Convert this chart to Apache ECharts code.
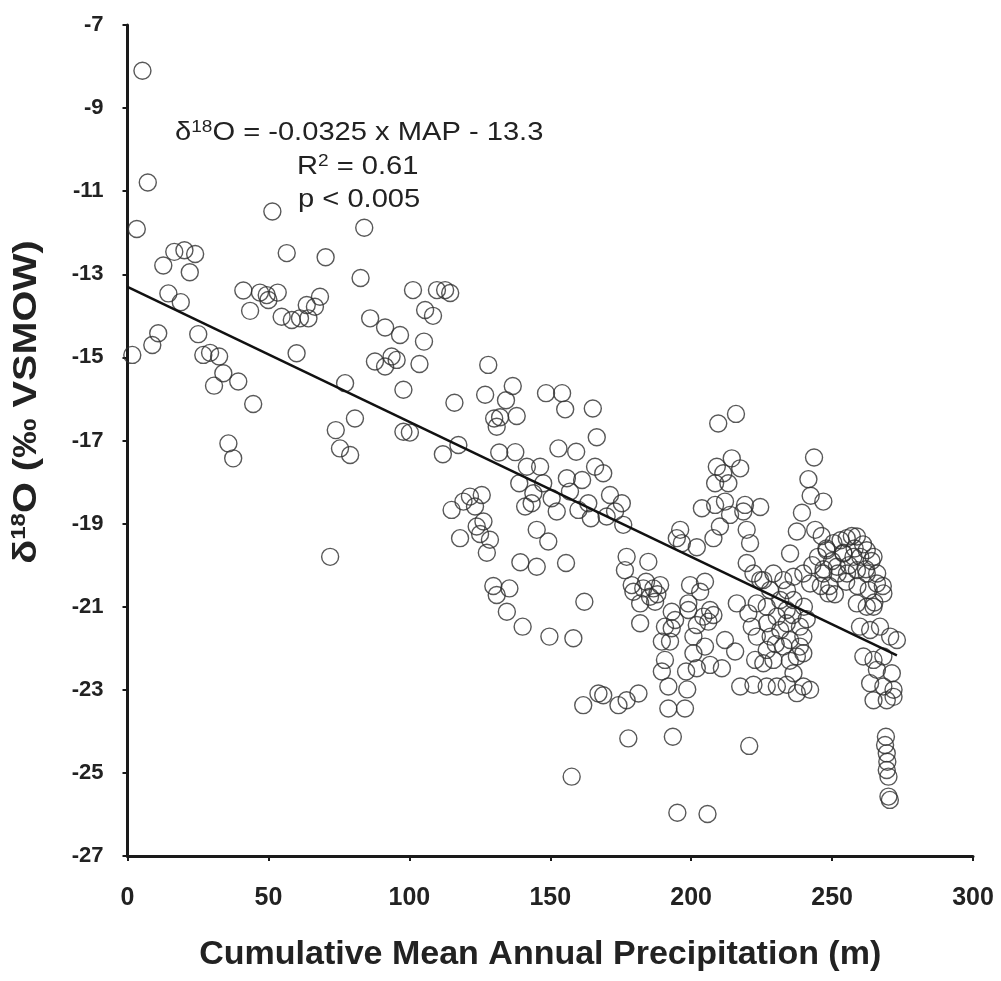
<!DOCTYPE html>
<html>
<head>
<meta charset="utf-8">
<script src="https://cdn.jsdelivr.net/npm/echarts@6/dist/echarts.min.js"></script>
<style>html,body{margin:0;padding:0;background:#fff;}#chart{width:1001px;height:981px;}</style>
</head>
<body>
<div id="chart"></div>
<script>
// Cumulative MAP (m), δ18O (‰ VSMOW) pairs
const pointsEarly = [
[5.3,-8.10],[7.2,-10.79],[3.3,-11.91],[51.4,-11.49],[84.0,-11.88],[56.5,-12.49],[70.3,-12.59],[82.7,-13.09],
[16.6,-12.46],[20.2,-12.42],[24.0,-12.51],[12.7,-12.79],[22.1,-12.95],[14.5,-13.46],[18.9,-13.67],
[41.1,-13.39],[47.0,-13.44],[49.4,-13.50],[53.3,-13.44],[43.5,-13.88],[50.0,-13.62],[54.7,-14.02],
[58.3,-14.10],[61.2,-14.06],[64.2,-14.06],[63.6,-13.74],[68.3,-13.54],[66.5,-13.78],[86.1,-14.06],[91.4,-14.28],
[10.9,-14.42],[8.8,-14.70],[1.7,-14.94],[25.1,-14.44],[26.9,-14.94],[29.3,-14.89],[32.5,-14.98],[34.0,-15.38],
[30.7,-15.68],[39.3,-15.58],[44.6,-16.12],[35.8,-17.07],[37.5,-17.43],[60.0,-14.90],[77.2,-15.62],[80.7,-16.47],
[73.9,-16.75],[75.4,-17.19],[79.0,-17.35],[71.9,-19.80],[87.8,-15.10],[91.4,-15.22],[93.7,-14.98],[95.5,-15.06],
[97.9,-15.78],[97.9,-16.79],[96.7,-14.46]
];
const pointsMid = [
[101.3,-13.38],[105.6,-13.86],[108.4,-14.00],[109.8,-13.38],[112.7,-13.38],[114.5,-13.45],[105.2,-14.62],[103.6,-15.16],[100.2,-16.81],
[128.0,-15.18],[116.0,-16.09],[126.9,-15.90],[136.7,-15.69],[134.3,-16.03],[130.1,-16.47],[132.2,-16.44],[138.1,-16.41],[131.0,-16.67],
[148.5,-15.86],[154.2,-15.86],[155.3,-16.25],[165.1,-16.23],[166.5,-16.92],[117.4,-17.11],[111.9,-17.33],[131.9,-17.29],[137.6,-17.28],
[152.9,-17.19],[159.2,-17.27],[141.7,-17.63],[146.4,-17.63],[155.9,-17.91],[161.3,-17.95],[165.9,-17.63],[139.0,-18.03],[147.5,-18.03],
[144.0,-18.27],[150.5,-18.39],[157.0,-18.23],[141.1,-18.59],[143.4,-18.51],[152.3,-18.71],[160.0,-18.67],[163.5,-18.51],[164.4,-18.87],
[115.0,-18.67],[121.5,-18.35],[125.7,-18.31],[119.2,-18.47],[123.3,-18.59],[126.3,-18.95],[123.9,-19.07],[118.0,-19.35],[128.6,-19.39],[125.1,-19.25],
[127.5,-19.70],[145.2,-19.15],[149.3,-19.43],[139.4,-19.93],[155.6,-19.95],[145.2,-20.04],
[129.8,-20.50],[135.5,-20.56],[131.0,-20.72],[134.6,-21.12],[140.2,-21.48],[149.7,-21.72],[158.2,-21.76],[162.1,-20.88],
[161.7,-23.37],[167.1,-23.09],[157.6,-25.09]
];
const pointsLate = [
[168.8,-17.79],[171.2,-18.31],[175.4,-18.51],[173.0,-18.71],[170.0,-18.83],[175.9,-19.03],[177.1,-19.80],[184.8,-19.92],
[196.1,-19.15],[194.9,-19.35],[196.7,-19.47],[202.0,-19.57],
[209.6,-16.59],[215.9,-16.36],[209.1,-17.63],[214.4,-17.43],[217.4,-17.67],[211.4,-17.79],[208.5,-18.03],[213.2,-18.03],
[203.8,-18.63],[208.5,-18.55],[212.0,-18.47],[219.1,-18.55],[218.5,-18.71],[213.8,-18.79],[219.7,-19.15],[210.2,-19.07],[207.9,-19.35],[220.9,-19.47],
[176.5,-20.12],[179.5,-20.64],[183.0,-20.56],[186.6,-20.56],[189.0,-20.48],[178.9,-20.48],[185.4,-20.76],[181.9,-20.92],[187.2,-20.88],[181.9,-21.40],
[184.0,-20.40],[188.0,-20.70],
[199.6,-20.48],[204.9,-20.40],[203.2,-20.64],[199.0,-20.92],[199.0,-21.08],
[193.1,-21.12],[194.3,-21.32],[190.7,-21.48],[193.1,-21.52],
[206.7,-21.08],[204.3,-21.24],[202.0,-21.44],[206.1,-21.36],[207.9,-21.20],
[189.6,-21.84],[192.5,-21.84],[200.8,-21.72],[204.9,-21.96],[200.8,-22.12],[190.7,-22.28],[189.6,-22.56],
[198.2,-22.56],[202.0,-22.48],[206.7,-22.40],[210.9,-22.48],[212.0,-21.80],[215.6,-22.08],[216.2,-20.92],
[217.4,-22.92],[222.1,-22.88],[222.7,-22.28],[220.3,-21.16],[223.3,-20.92],[221.5,-21.48],[223.3,-21.72],
[191.9,-22.92],[198.6,-22.99],[191.9,-23.45],[197.8,-23.45],
[168.8,-23.13],[174.2,-23.37],[177.1,-23.25],[181.3,-23.09],
[177.7,-24.17],[193.5,-24.13],[220.6,-24.35],[195.1,-25.96],[205.8,-25.99],
[222.1,-20.20],[224.5,-20.36],[219.7,-19.95]
];
const pointsEnd = [
[243.6,-17.41],[241.6,-17.93],[242.4,-18.33],[246.9,-18.47],[239.3,-18.74],[237.5,-19.19],[244.0,-19.15],[246.3,-19.30],[235.1,-19.72],[224.5,-18.60],
[225.6,-20.36],[229.2,-20.20],[232.7,-20.36],[236.3,-20.28],[239.8,-20.20],[242.2,-20.44],
[226.8,-22.92],[230.4,-22.92],[233.9,-22.88],[236.3,-22.60],[239.8,-22.92],[242.2,-23.00],[237.5,-23.08],
[238.6,-21.48],[239.8,-21.72],[238.6,-21.96],[239.8,-22.12],[229.2,-22.28],[225.6,-22.36],
[226.8,-21.00],[230.4,-21.24],[233.9,-21.08],[231.6,-21.56],[228.2,-21.72],[235.1,-21.80],[232.7,-21.96],[236.3,-20.84],[231.6,-20.84],[226.8,-22.04],[233.9,-21.40],[237.5,-22.20],
[228.0,-20.60],[234.0,-20.60],[240.0,-21.00],[227.0,-21.40],[235.0,-22.30],[230.0,-21.90],[241.0,-21.30],[236.0,-21.20],
[259.9,-21.48],[263.5,-21.56],[267.0,-21.48],[270.6,-21.72],[273.0,-21.80],
[261.1,-22.20],[264.7,-22.28],[268.2,-22.20],[265.9,-22.52],[271.2,-22.60],[263.5,-22.84],[268.2,-22.92],[271.8,-23.00],[264.7,-23.25],[269.4,-23.25],[271.8,-23.17],
[269.1,-24.13],[268.8,-24.33],[269.4,-24.53],[269.6,-24.73],[269.4,-24.93],[270.0,-25.09],[270.0,-25.57],[270.5,-25.65],
[258.8,-20.12],[262.3,-20.20],[265.9,-20.44],[268.2,-20.68],[258.8,-20.92],[262.3,-21.00],[264.7,-21.00],
[248.7,-20.68],[251.7,-20.04],[246.9,-20.20],[255.3,-20.20],
[250.5,-19.47],[255.2,-19.35],[258.8,-19.31],[262.3,-19.64],[264.7,-19.80],[248.1,-19.64],[254.0,-19.72],[257.6,-19.80],
[248,-19.6],[250,-19.9],[252,-20.2],[249,-20.5],[254,-19.7],[256,-20.0],[258,-19.6],[255,-20.4],[260,-19.8],[262,-20.1],
[259,-20.5],[264,-19.9],[263,-20.6],[266,-20.2],[253,-19.4],[257,-19.3],[261,-19.5],[247,-20.1],[245,-19.8],[251,-20.7],
[265,-20.9],[268,-20.5],[246,-20.5],[243,-20.0]
];
// regression line δ18O = -0.0325 x MAP - 13.3, drawn over the data range
const trendLine = [[0,-13.3],[273,-22.17]];
const xTicks = [0,50,100,150,200,250,300];
const yTicks = [-27,-25,-23,-21,-19,-17,-15,-13,-11,-9,-7];

const allPoints = pointsEarly.concat(pointsMid, pointsLate, pointsEnd);
const chart = echarts.init(document.getElementById('chart'), null, {renderer:'canvas'});
const FONT = '"Liberation Sans", Arial, sans-serif';
const axisCol = '#1a1a1a';
const txtCol = '#222';
chart.setOption({
  animation:false,
  backgroundColor:'#fff',
  grid:{left:127.5,right:28,top:25,bottom:125,containLabel:false},
  xAxis:{
    type:'value', min:xTicks[0], max:xTicks[xTicks.length-1], interval:50,
    splitLine:{show:false},
    axisLine:{show:true,onZero:false,lineStyle:{color:axisCol,width:3}},
    axisTick:{show:true,length:5,lineStyle:{color:axisCol,width:2}},
    axisLabel:{color:txtCol,fontFamily:FONT,fontWeight:'bold',fontSize:25,margin:30},
    name:'Cumulative Mean Annual Precipitation (m)',
    nameLocation:'middle', nameGap:82,
    nameTextStyle:{color:txtCol,fontFamily:FONT,fontWeight:'bold',fontSize:34,padding:[0,20,0,0]}
  },
  yAxis:{
    type:'value', min:yTicks[0], max:yTicks[yTicks.length-1], interval:2,
    splitLine:{show:false},
    axisLine:{show:true,onZero:false,lineStyle:{color:axisCol,width:3}},
    axisTick:{show:true,length:5,lineStyle:{color:axisCol,width:2}},
    axisLabel:{color:txtCol,fontFamily:FONT,fontWeight:'bold',fontSize:22,margin:24}
  },
  series:[
    {type:'scatter', data:allPoints, symbol:'circle', symbolSize:17,
     itemStyle:{color:'rgba(0,0,0,0)',borderColor:'#2e2e2e',borderWidth:1.4}, z:2},
    {type:'line', data:trendLine, symbol:'none', lineStyle:{color:'#111',width:2.5}, z:3}
  ],
  graphic:[
    {type:'text', x:26.5, y:402, rotation:Math.PI/2, scaleX:1.2, z:10,
     style:{text:'{b|δ}{s|18}{b|O (‰ VSMOW)}', textAlign:'center', textVerticalAlign:'middle',
      rich:{b:{fontFamily:FONT,fontWeight:'bold',fontSize:33,fill:txtCol},
            s:{fontFamily:FONT,fontWeight:'bold',fontSize:20,fill:txtCol,padding:[0,0,14,0]}}}},
    {type:'text', left:175, top:119, z:10, scaleX:1.12, style:{text:'{a|δ}{s|18}{a|O = -0.0325 x MAP - 13.3}',
      rich:{a:{fontFamily:FONT,fontSize:26,fill:txtCol},s:{fontFamily:FONT,fontSize:17,fill:txtCol,padding:[0,0,11,0]}}}},
    {type:'text', left:297, top:153, z:10, scaleX:1.12, style:{text:'{a|R}{s|2}{a| = 0.61}',
      rich:{a:{fontFamily:FONT,fontSize:26,fill:txtCol},s:{fontFamily:FONT,fontSize:17,fill:txtCol,padding:[0,0,11,0]}}}},
    {type:'text', left:298, top:187, z:10, scaleX:1.12, style:{text:'p < 0.005', fontFamily:FONT, fontSize:26, fill:txtCol}}
  ]
});
</script>
</body>
</html>
